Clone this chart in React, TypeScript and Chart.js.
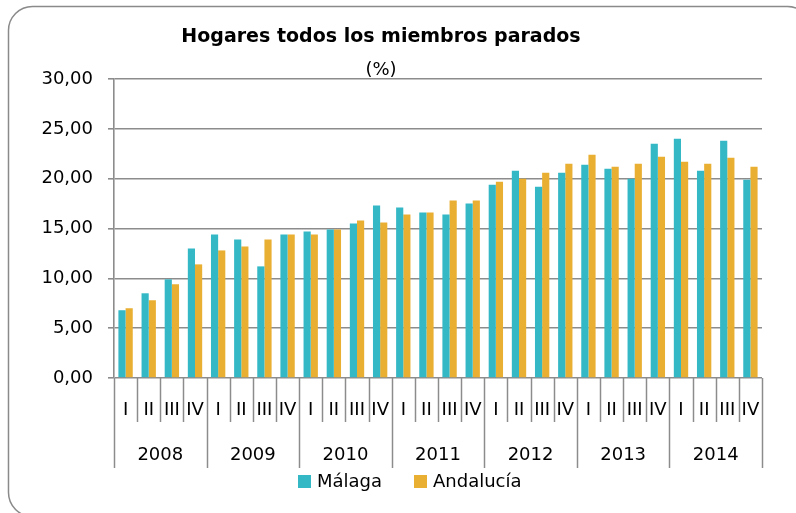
import React, { useEffect, useRef } from "react";
import { Chart, registerables } from "chart.js";

Chart.register(...registerables);

const title = "Hogares todos los miembros parados";
const subtitle = "(%)";
const years = ["2008", "2009", "2010", "2011", "2012", "2013", "2014"];
const quarters = ["I", "II", "III", "IV"];
const seriesNames = ["Málaga", "Andalucía"];
const malaga = [6.8, 8.5, 9.9, 13.0, 14.4, 13.9, 11.2, 14.4, 14.7, 14.9, 15.5, 17.3, 17.1, 16.6, 16.4, 17.5, 19.4, 20.8, 19.2, 20.6, 21.4, 21.0, 20.0, 23.5, 24.0, 20.8, 23.8, 19.9];
const andalucia = [7.0, 7.8, 9.4, 11.4, 12.8, 13.2, 13.9, 14.4, 14.4, 14.9, 15.8, 15.6, 16.4, 16.6, 17.8, 17.8, 19.7, 20.0, 20.6, 21.5, 22.4, 21.2, 21.5, 22.2, 21.7, 21.5, 22.1, 21.2];
const yTicks = [0, 5, 10, 15, 20, 25, 30];

const colors = ["#35B8C6", "#E9AF32"];
const FONT = "'DejaVu Sans', sans-serif";
const GRID = "#8c8c8c";

const frame = {
  id: "frame",
  beforeDraw(chart: any) {
    const ctx = chart.ctx;
    ctx.save();
    ctx.fillStyle = "#ffffff";
    ctx.fillRect(0, 0, chart.width, chart.height);
    ctx.strokeStyle = "#8a8a8a";
    ctx.lineWidth = 1.5;
    ctx.beginPath();
    ctx.roundRect(8.5, 6.5, 803, 510, 24);
    ctx.stroke();
    ctx.restore();
  },
};

const xAxisGroups = {
  id: "xAxisGroups",
  afterDraw(chart: any) {
    const ctx = chart.ctx;
    const x = chart.scales.x;
    const area = chart.chartArea;
    const n = years.length * quarters.length;
    const catW = (area.right - area.left) / n;
    const base = area.bottom;
    ctx.save();
    ctx.strokeStyle = GRID;
    ctx.lineWidth = 1.5;
    for (let i = 0; i <= n; i++) {
      const px = Math.round(area.left + i * catW) + 0.5;
      const isYear = i % quarters.length === 0;
      ctx.beginPath();
      ctx.moveTo(px, base);
      ctx.lineTo(px, base + (isYear ? 90 : 44));
      ctx.stroke();
    }
    ctx.fillStyle = "#000";
    ctx.font = `18px ${FONT}`;
    ctx.textAlign = "center";
    ctx.textBaseline = "middle";
    for (let i = 0; i < n; i++) {
      ctx.fillText(quarters[i % quarters.length], x.getPixelForValue(i), base + 32);
    }
    years.forEach((y, j) => {
      const a = x.getPixelForValue(j * quarters.length);
      const b = x.getPixelForValue(j * quarters.length + quarters.length - 1);
      ctx.fillText(y, (a + b) / 2, base + 77);
    });
    // legend
    const items = chart.data.datasets;
    const startX = [298, 414];
    ctx.textAlign = "left";
    items.forEach((ds: any, k: number) => {
      ctx.fillStyle = ds.backgroundColor;
      ctx.fillRect(startX[k], 475, 13, 13);
      ctx.fillStyle = "#000";
      ctx.fillText(ds.label, startX[k] + 19, 482);
    });
    ctx.restore();
  },
};

export default function App() {
  const ref = useRef<HTMLCanvasElement | null>(null);
  useEffect(() => {
    if (!ref.current) return;
    const labels = years.flatMap((y) => quarters.map((q) => `${q} ${y}`));
    const chart = new Chart(ref.current, {
      type: "bar",
      data: {
        labels,
        datasets: [
          { label: seriesNames[0], data: malaga, backgroundColor: colors[0], borderWidth: 0, categoryPercentage: 0.62, barPercentage: 1 },
          { label: seriesNames[1], data: andalucia, backgroundColor: colors[1], borderWidth: 0, categoryPercentage: 0.62, barPercentage: 1 },
        ],
      },
      options: {
        responsive: false,
        animation: false,
        devicePixelRatio: 1,
        layout: { padding: { left: 0, right: 34, top: 0, bottom: 0 } },
        plugins: {
          legend: { display: false },
          tooltip: { enabled: false },
          title: {
            display: true,
            text: title,
            color: "#000",
            font: { family: FONT, size: 19, weight: "bold", lineHeight: 1.2 },
            padding: { top: 26, bottom: 12.2 },
          },
          subtitle: {
            display: true,
            text: subtitle,
            color: "#000",
            font: { family: FONT, size: 18, lineHeight: 1.0 },
            padding: { top: 0, bottom: 0 },
          },
        },
        scales: {
          x: {
            grid: { display: false },
            border: { display: false },
            ticks: { display: false },
            afterFit: (s: any) => {
              s.height = 135;
            },
          },
          y: {
            min: 0,
            max: 30,
            afterBuildTicks: (s: any) => {
              s.ticks = yTicks.map((v) => ({ value: v }));
            },
            ticks: {
              color: "#000",
              font: { family: FONT, size: 18 },
              padding: 15,
              callback: (v: any) => Number(v).toFixed(2).replace(".", ","),
            },
            grid: { color: GRID, lineWidth: 1.6, tickLength: 6, drawTicks: true },
            border: { display: true, color: GRID, width: 1.6 },
            afterFit: (s: any) => {
              s.width = 114;
            },
          },
        },
      },
      plugins: [frame, xAxisGroups],
    });
    return () => chart.destroy();
  }, []);
  return (
    <div style={{ position: "fixed", left: 0, top: 0, width: 796, height: 513, overflow: "hidden", background: "#fff" }}>
      <canvas ref={ref} width={796} height={513} />
    </div>
  );
}
